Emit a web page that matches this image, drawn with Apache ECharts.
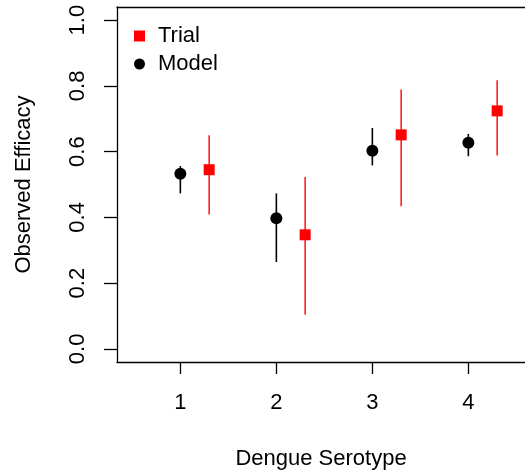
<!DOCTYPE html>
<html>
<head>
<meta charset="utf-8">
<script src="https://cdn.jsdelivr.net/npm/echarts@6/dist/echarts.min.js"></script>
<style>html,body{margin:0;padding:0;background:#fff}#c{width:525px;height:473px}</style>
</head>
<body>
<div id="c"></div>
<script>
var serotypes = [1, 2, 3, 4];
var trialX = [1.3, 2.3, 3.3, 4.3];
var modelMean = [0.533, 0.397, 0.603, 0.627];
var modelLow  = [0.473, 0.264, 0.558, 0.586];
var modelHigh = [0.556, 0.473, 0.672, 0.654];
var trialMean = [0.545, 0.347, 0.651, 0.724];
var trialLow  = [0.409, 0.104, 0.434, 0.588];
var trialHigh = [0.650, 0.523, 0.789, 0.817];
var yTicks = [0, 0.2, 0.4, 0.6, 0.8, 1.0];
var xTicks = [1, 2, 3, 4];

var FONT = '"Liberation Sans", Arial, Helvetica, sans-serif';
var AX = { color: '#000', width: 1.3 };

function errData(xs, lo, hi) {
  return xs.map(function (x, i) { return [x, lo[i], hi[i]]; });
}
function errRender(color) {
  return function (params, api) {
    var p1 = api.coord([api.value(0), api.value(1)]);
    var p2 = api.coord([api.value(0), api.value(2)]);
    return {
      type: 'line',
      shape: { x1: p1[0], y1: p1[1], x2: p2[0], y2: p2[1] },
      style: { stroke: color, lineWidth: 1.6 }
    };
  };
}

var chart = echarts.init(document.getElementById('c'), null, { renderer: 'canvas' });
chart.setOption({
  animation: false,
  backgroundColor: '#fff',
  textStyle: { fontFamily: FONT },
  grid: { show: false, left: 117, top: 7, right: 0, bottom: 111, containLabel: false, outerBoundsMode: 'none' },
  legend: {
    orient: 'vertical', left: 129, top: 20, itemGap: 6,
    itemWidth: 11, itemHeight: 11,
    textStyle: { fontFamily: FONT, fontSize: 22, color: '#000', lineHeight: 22, padding: [0, 0, 0, 8] },
    data: [
      { name: 'Trial', icon: 'rect', itemStyle: { color: '#ff0000' } },
      { name: 'Model', icon: 'circle', itemStyle: { color: '#000' } }
    ]
  },
  xAxis: [{
    type: 'value', min: 0.34, max: 4.59, position: 'bottom',
    name: 'Dengue Serotype', nameLocation: 'middle', nameGap: 86,
    nameTextStyle: { fontFamily: FONT, fontSize: 22, color: '#000' },
    axisLine: { show: true, onZero: false, lineStyle: AX },
    splitLine: { show: false },
    axisTick: { show: true, inside: false, length: 12, customValues: xTicks, lineStyle: AX },
    axisLabel: { show: true, customValues: xTicks, margin: 30, fontFamily: FONT, fontSize: 22, color: '#000' }
  }, {
    type: 'value', min: 0.34, max: 4.59, position: 'top',
    axisLine: { show: true, onZero: false, lineStyle: AX },
    splitLine: { show: false }, axisTick: { show: false }, axisLabel: { show: false }
  }],
  yAxis: {
    type: 'value', min: -0.04, max: 1.04,
    name: 'Observed Efficacy', nameLocation: 'middle', nameRotate: 90, nameGap: 82,
    nameTextStyle: { fontFamily: FONT, fontSize: 22, color: '#000' },
    axisLine: { show: true, onZero: false, lineStyle: AX },
    splitLine: { show: false },
    axisTick: { show: true, inside: false, length: 13, customValues: yTicks, lineStyle: AX },
    axisLabel: {
      show: true, customValues: yTicks, rotate: 90, margin: 28,
      fontFamily: FONT, fontSize: 22, color: '#000',
      formatter: function (v) { return v.toFixed(1); }
    }
  },
  series: [
    { type: 'custom', name: 'modelErr', renderItem: errRender('#000'), data: errData(serotypes, modelLow, modelHigh), encode: { x: 0, y: [1, 2] }, silent: true, z: 1 },
    { type: 'custom', name: 'trialErr', renderItem: errRender('#ff2020'), data: errData(trialX, trialLow, trialHigh), encode: { x: 0, y: [1, 2] }, silent: true, z: 1 },
    { type: 'scatter', name: 'Model', symbol: 'circle', symbolSize: 12, itemStyle: { color: '#000', opacity: 1 },
      data: serotypes.map(function (x, i) { return [x, modelMean[i]]; }), z: 3 },
    { type: 'scatter', name: 'Trial', symbol: 'rect', symbolSize: 11, itemStyle: { color: '#ff0000', opacity: 1 },
      data: trialX.map(function (x, i) { return [x, trialMean[i]]; }), z: 3 }
  ]
});
</script>
</body>
</html>
